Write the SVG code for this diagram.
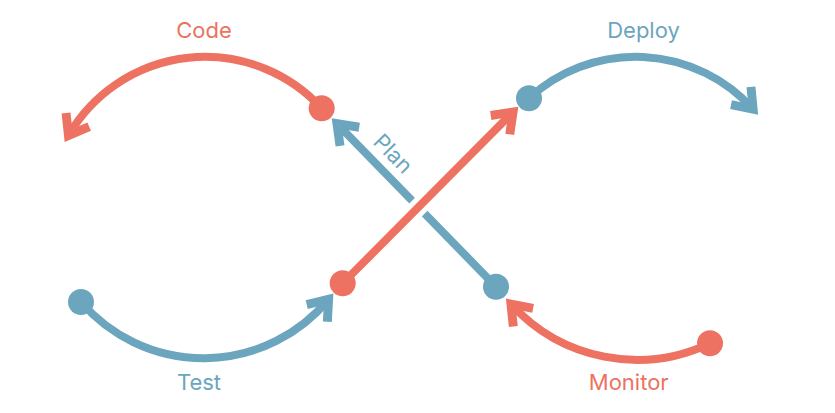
<svg xmlns="http://www.w3.org/2000/svg" width="835" height="413" viewBox="0 0 835 413">
<style>
.red{stroke:#ED7262;fill:none;stroke-width:8}
.blue{stroke:#6CA5BE;fill:none;stroke-width:8}
.dr{fill:#ED7262}
.db{fill:#6CA5BE}
.lbl{font-family:Inter,"Liberation Sans",sans-serif;font-size:22px;text-anchor:middle}
</style>
<defs>
<marker id="ar" markerUnits="userSpaceOnUse" markerWidth="40" markerHeight="40" viewBox="-30 -20 40 40" refX="-8" refY="0" orient="auto" overflow="visible">
<path d="M0,0 L-23,-17 L-28.3,-9.8 L-15,0 L-28.3,9.8 L-23,17 Z" fill="#ED7262"/>
</marker>
<marker id="ab" markerUnits="userSpaceOnUse" markerWidth="40" markerHeight="40" viewBox="-30 -20 40 40" refX="-8" refY="0" orient="auto" overflow="visible">
<path d="M0,0 L-23,-17 L-28.3,-9.8 L-15,0 L-28.3,9.8 L-23,17 Z" fill="#6CA5BE"/>
</marker>
</defs>
<g id="connectors">
<path id="code-arc" class="red" d="M321.7,108.3 A158,158 0 0 0 68.7,135" marker-end="url(#ar)"/>
<path id="deploy-arc" class="blue" d="M529,98.3 A157.6,157.6 0 0 1 752.8,108.9" marker-end="url(#ab)"/>
<path id="test-arc" class="blue" d="M81,302 A162,162 0 0 0 328.3,299.6" marker-end="url(#ab)"/>
<path id="monitor-arc" class="red" d="M710,343.3 A170,170 0 0 1 511.3,304.4" marker-end="url(#ar)"/>
<path id="plan-line" class="blue" d="M496,286.7 L337.3,124" marker-end="url(#ab)"/>
<path d="M405.7,219.9 L431.1,194.3" stroke="#fff" stroke-width="18" fill="none"/>
<path id="build-line" class="red" d="M342.7,283.3 L512.7,112.4" marker-end="url(#ar)"/>
</g>
<g id="node-code">
<circle class="dr" cx="321.7" cy="108.3" r="13"/>
<text class="lbl" x="204" y="38" fill="#ED7262">Code</text>
</g>
<g id="node-deploy">
<circle class="db" cx="529" cy="98.3" r="13"/>
<text class="lbl" x="643.5" y="38" fill="#6CA5BE">Deploy</text>
</g>
<g id="node-test">
<circle class="db" cx="81" cy="302" r="13"/>
<text class="lbl" x="199" y="390" fill="#6CA5BE">Test</text>
</g>
<g id="node-monitor">
<circle class="dr" cx="710" cy="343.3" r="13"/>
<text class="lbl" x="628.7" y="390" fill="#ED7262">Monitor</text>
</g>
<g id="node-plan">
<circle class="db" cx="496" cy="286.7" r="13"/>
<text class="lbl" transform="translate(387.6,159) rotate(45.7)" fill="#6CA5BE">Plan</text>
</g>
<g id="node-build">
<circle class="dr" cx="342.7" cy="283.3" r="13"/>
</g>
</svg>
